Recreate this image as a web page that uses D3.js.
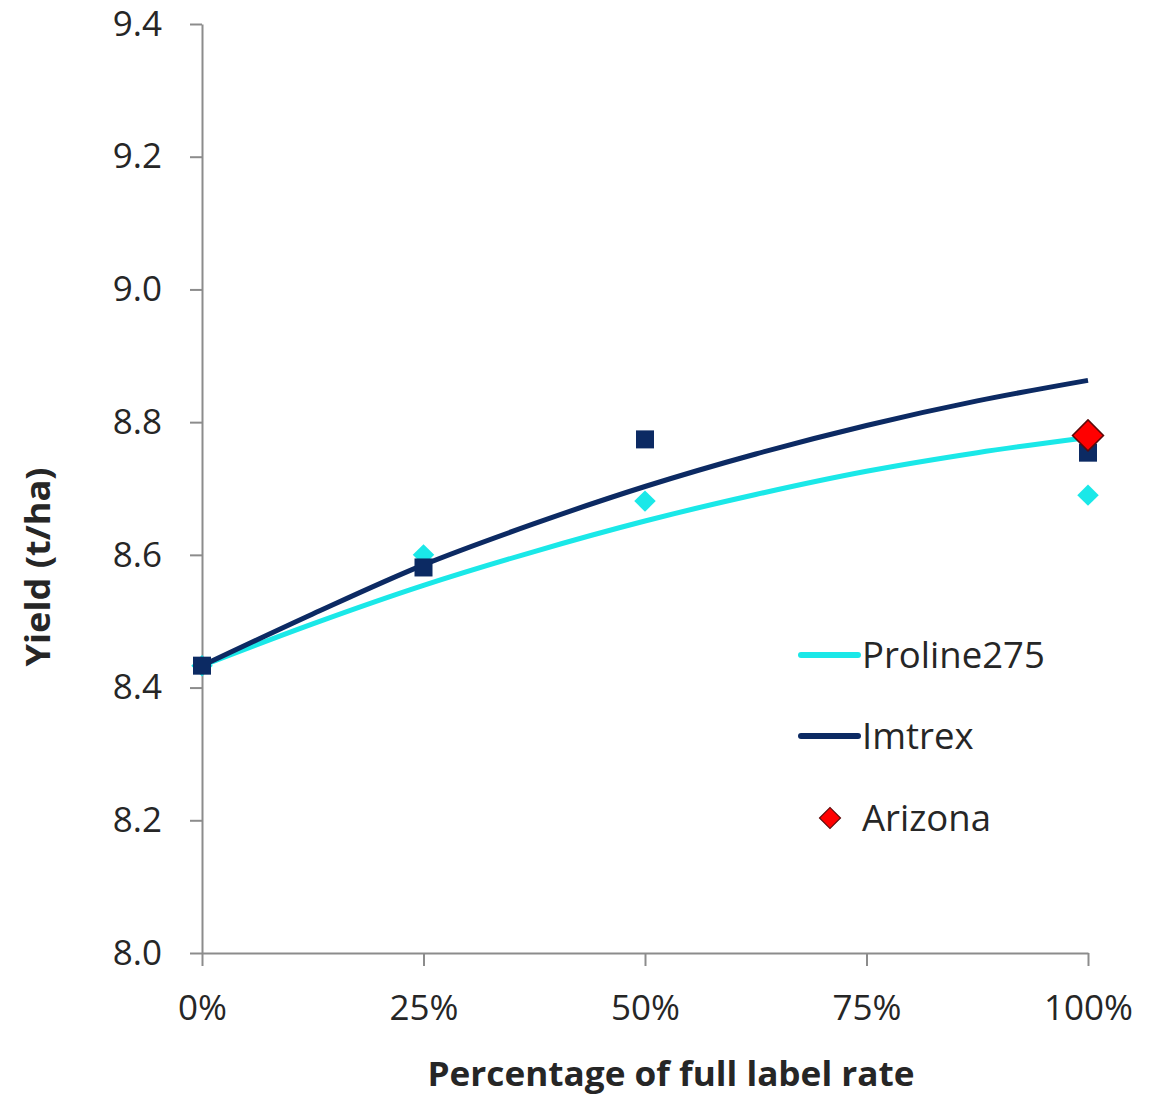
<!DOCTYPE html>
<html>
<head>
<meta charset="utf-8">
<script src="https://cdn.jsdelivr.net/npm/d3@7"></script>
<style>
  body { margin: 0; background: #fff; }
  text { font-family: "Open Sans", sans-serif; fill: #262626; }
</style>
</head>
<body>
<div id="chart"></div>
<script>
// Data
const rates = [0, 25, 50, 100];
const prolineYield = [8.433, 8.600, 8.681, 8.690];
const imtrexYield = [8.433, 8.581, 8.774, 8.754];
const arizonaRate = [100];
const arizonaYield = [8.780];

// Trend curves as they appear in the chart
const trendRates = [0, 12.5, 25, 37.5, 50, 62.5, 75, 87.5, 100];
const prolineTrend = [8.433, 8.496, 8.554, 8.605, 8.651, 8.691, 8.726, 8.754, 8.777];
const imtrexTrend = [8.433, 8.511, 8.585, 8.647, 8.703, 8.752, 8.795, 8.832, 8.863];

const xTicks = [0, 25, 50, 75, 100];
const yTicks = [8.0, 8.2, 8.4, 8.6, 8.8, 9.0, 9.2, 9.4];

const cyan = "#1ae8e8", navy = "#0c2a63";

const W = 1161, H = 1097;
const svg = d3.select("#chart").append("svg")
    .attr("width", W)
    .attr("height", H);

const x = d3.scaleLinear().domain([0, 100]).range([202, 1088]);
const y = d3.scaleLinear().domain([8.0, 9.4]).range([953, 24]);

// Axes
const xAxis = svg.append("g")
    .attr("transform", `translate(0,${y(8.0)})`)
    .call(d3.axisBottom(x).tickValues(xTicks).tickSize(13).tickPadding(29)
        .tickSizeOuter(0).tickFormat(d => d + "%"));
const yAxis = svg.append("g")
    .attr("transform", `translate(${x(0)},0)`)
    .call(d3.axisLeft(y).tickValues(yTicks).tickSize(12).tickPadding(28)
        .tickSizeOuter(0).tickFormat(d3.format(".1f")));

[xAxis, yAxis].forEach(a => {
  a.select(".domain").attr("stroke", "#8c8c8c").attr("stroke-width", 2);
  a.selectAll(".tick line").attr("stroke", "#8c8c8c").attr("stroke-width", 2);
  a.selectAll(".tick text")
      .style("font-family", '"Open Sans", sans-serif')
      .style("font-size", "35px")
      .attr("fill", "#262626");
});

// Axis titles
svg.append("text")
    .attr("x", 671)
    .attr("y", 1086)
    .attr("text-anchor", "middle")
    .attr("textLength", 487)
    .attr("lengthAdjust", "spacingAndGlyphs")
    .style("font-size", "34px")
    .style("font-weight", "bold")
    .text("Percentage of full label rate");

svg.append("text")
    .attr("transform", "translate(50,567) rotate(-90)")
    .attr("text-anchor", "middle")
    .attr("textLength", 199)
    .attr("lengthAdjust", "spacingAndGlyphs")
    .style("font-size", "34px")
    .style("font-weight", "bold")
    .text("Yield (t/ha)");

// Trend curves
const line = d3.line()
    .x(d => x(d[0]))
    .y(d => y(d[1]))
    .curve(d3.curveMonotoneX);

svg.append("path")
    .datum(trendRates.map((r, i) => [r, prolineTrend[i]]))
    .attr("d", line)
    .attr("fill", "none")
    .attr("stroke", cyan)
    .attr("stroke-width", 5);

svg.append("path")
    .datum(trendRates.map((r, i) => [r, imtrexTrend[i]]))
    .attr("d", line)
    .attr("fill", "none")
    .attr("stroke", navy)
    .attr("stroke-width", 5);

// Points
const diamond = d3.symbol().type(d3.symbolSquare);

svg.append("g")
  .selectAll("path")
  .data(rates.map((r, i) => [r, prolineYield[i]]))
  .join("path")
    .attr("d", diamond.size(230)())
    .attr("transform", d => `translate(${x(d[0])},${y(d[1])}) rotate(45)`)
    .attr("fill", cyan);

svg.append("g")
  .selectAll("rect")
  .data(rates.map((r, i) => [r, imtrexYield[i]]))
  .join("rect")
    .attr("x", d => x(d[0]) - 9)
    .attr("y", d => y(d[1]) - 9)
    .attr("width", 18)
    .attr("height", 18)
    .attr("fill", navy);

svg.append("g")
  .selectAll("path")
  .data(arizonaRate.map((r, i) => [r, arizonaYield[i]]))
  .join("path")
    .attr("d", d3.symbol().type(d3.symbolSquare).size(480)())
    .attr("transform", d => `translate(${x(d[0])},${y(d[1])}) rotate(45)`)
    .attr("fill", "#ff0000")
    .attr("stroke", "#5a0a0a")
    .attr("stroke-width", 1.5);

// Legend
const legend = svg.append("g");
const items = [
  {name: "Proline275", type: "line", color: cyan, y: 655},
  {name: "Imtrex", type: "line", color: navy, y: 736},
  {name: "Arizona", type: "marker", color: "#ff0000", y: 818}
];

items.forEach(it => {
  if (it.type === "line") {
    legend.append("line")
        .attr("x1", 801).attr("x2", 858)
        .attr("y1", it.y).attr("y2", it.y)
        .attr("stroke", it.color)
        .attr("stroke-width", 6)
        .attr("stroke-linecap", "round");
  } else {
    legend.append("path")
        .attr("d", d3.symbol().type(d3.symbolSquare).size(220)())
        .attr("transform", `translate(830,${it.y}) rotate(45)`)
        .attr("fill", it.color)
        .attr("stroke", "#5a0a0a")
        .attr("stroke-width", 1.2);
  }
  legend.append("text")
      .attr("x", 862)
      .attr("y", it.y)
      .attr("dy", "0.36em")
      .style("font-size", "36.5px")
      .text(it.name);
});
</script>
</body>
</html>
